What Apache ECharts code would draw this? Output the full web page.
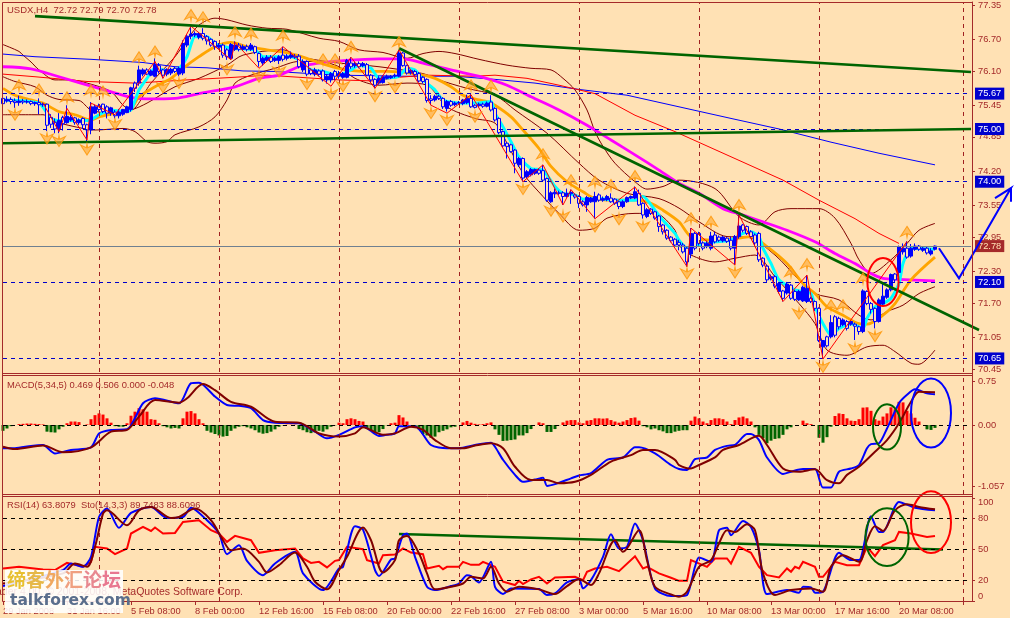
<!DOCTYPE html>
<html><head><meta charset="utf-8">
<style>html,body{margin:0;padding:0;background:#fff}#c{width:1034px;height:618px}</style>
<script src="https://cdn.jsdelivr.net/npm/echarts@6/dist/echarts.min.js"></script>
</head><body><div id="c"></div>
<script>
const timeLabels=["29 Jan 2008","31 Jan 16:00","5 Feb 08:00","8 Feb 00:00","12 Feb 16:00","15 Feb 08:00","20 Feb 00:00","22 Feb 16:00","27 Feb 08:00","3 Mar 00:00","5 Mar 16:00","10 Mar 08:00","13 Mar 00:00","17 Mar 16:00","20 Mar 08:00"];
const priceTicks=[77.35,76.70,76.10,75.45,74.85,74.20,73.55,72.95,72.30,71.70,71.05,70.45];
const macdTicks=["0.75","0.00","-1.057"];
const rsiTicks=[100,80,50,20,0];
const priceLevels=[75.67,75.00,74.00,72.10,70.65];
const lastPrice=72.78;
const periodSep=[24,54,84,114,144,174,204,240];
// open, close, low, high
const candles=[[75.58,75.48,75.42,75.62],[75.53,75.56,75.50,75.62],[75.56,75.52,75.47,75.60],[75.53,75.50,75.40,75.58],[75.50,75.53,75.44,75.63],[75.53,75.51,75.47,75.57],[75.51,75.52,75.48,75.56],[75.52,75.48,75.45,75.54],[75.48,75.50,75.44,75.52],[75.50,75.46,75.28,75.58],
[75.46,75.47,75.42,75.50],[75.47,75.07,74.96,75.48],[75.22,75.09,75.02,75.28],[75.12,75.00,74.92,75.20],[75.00,75.16,74.92,75.30],[75.22,75.10,74.97,75.25],[75.12,75.24,75.10,75.45],[75.17,75.22,75.14,75.26],[75.21,75.12,75.08,75.23],[75.12,75.17,75.08,75.20],
[75.20,75.08,75.00,75.22],[75.08,74.98,74.75,75.10],[74.98,75.42,74.90,75.51],[75.30,75.42,75.28,75.46],[75.44,75.37,75.33,75.48],[75.47,75.33,75.30,75.48],[75.42,75.30,75.20,75.45],[75.30,75.40,75.25,75.42],[75.32,75.25,75.20,75.36],[75.25,75.32,75.20,75.38],
[75.28,75.37,75.25,75.38],[75.31,75.42,75.30,75.44],[75.37,75.78,75.33,75.80],[75.87,75.77,75.70,75.90],[75.87,76.12,75.82,76.20],[76.04,76.12,76.00,76.15],[76.12,76.04,76.02,76.15],[76.02,76.10,76.00,76.13],[76.00,76.22,75.98,76.34],[76.20,76.09,76.05,76.25],
[76.12,76.02,75.96,76.14],[76.04,76.13,76.00,76.15],[76.06,76.13,76.02,76.16],[76.15,76.09,76.06,76.18],[76.04,76.15,76.00,76.18],[76.06,76.62,76.02,76.68],[76.59,76.76,76.55,76.80],[76.76,76.80,76.70,76.94],[76.78,76.81,76.74,76.85],[76.74,76.81,76.70,76.84],
[76.81,76.72,76.68,76.91],[76.75,76.67,76.60,76.78],[76.70,76.59,76.56,76.72],[76.66,76.56,76.50,76.68],[76.55,76.59,76.52,76.63],[76.59,76.40,76.35,76.62],[76.50,76.37,76.31,76.53],[76.34,76.60,76.31,76.63],[76.51,76.59,76.48,76.66],[76.59,76.51,76.47,76.63],
[76.51,76.56,76.48,76.60],[76.56,76.51,76.47,76.60],[76.51,76.59,76.48,76.63],[76.56,76.45,76.42,76.58],[76.43,76.28,76.18,76.45],[76.25,76.34,76.20,76.37],[76.30,76.36,76.27,76.40],[76.36,76.28,76.25,76.40],[76.30,76.34,76.27,76.37],[76.30,76.37,76.23,76.40],
[76.40,76.32,76.28,76.56],[76.34,76.38,76.30,76.42],[76.36,76.40,76.33,76.47],[76.38,76.36,76.33,76.42],[76.38,76.18,76.15,76.42],[76.12,76.28,76.08,76.32],[76.28,76.04,76.00,76.30],[76.12,76.05,76.02,76.15],[76.04,76.12,76.00,76.16],[76.10,76.04,76.00,76.13],
[76.10,75.93,75.90,76.13],[75.93,76.00,75.86,76.03],[75.93,76.05,75.88,76.08],[76.09,76.00,75.92,76.12],[76.00,76.05,75.95,76.10],[75.98,76.05,75.95,76.08],[75.98,76.30,75.96,76.33],[76.25,76.18,76.14,76.36],[76.20,76.24,76.16,76.27],[76.24,76.18,76.15,76.28],
[76.20,76.24,76.17,76.27],[76.22,76.02,76.00,76.25],[76.02,75.93,75.88,76.04],[75.94,75.83,75.77,75.96],[75.87,75.96,75.84,76.00],[75.88,75.99,75.86,76.02],[75.96,76.00,75.94,76.03],[75.97,76.00,75.95,76.02],[76.00,76.02,75.97,76.05],[76.00,76.44,75.98,76.50],
[76.44,76.20,76.18,76.46],[76.20,76.06,76.03,76.22],[76.06,76.11,76.03,76.13],[76.09,76.03,76.00,76.12],[76.05,75.91,75.88,76.08],[75.98,75.90,75.86,76.00],[75.94,75.54,75.50,75.96],[75.57,75.54,75.45,75.64],[75.55,75.62,75.52,75.65],[75.62,75.58,75.55,75.65],
[75.58,75.42,75.38,75.60],[75.39,75.52,75.33,75.55],[75.52,75.45,75.42,75.55],[75.46,75.49,75.43,75.52],[75.49,75.50,75.46,75.53],[75.48,75.55,75.45,75.57],[75.50,75.58,75.47,75.65],[75.58,75.42,75.40,75.66],[75.45,75.41,75.39,75.47],[75.44,75.47,75.41,75.50],
[75.47,75.43,75.40,75.50],[75.43,75.49,75.41,75.52],[75.51,75.36,75.33,75.64],[75.39,75.17,75.14,75.41],[75.20,74.93,74.90,75.22],[74.95,74.68,74.65,74.97],[74.73,74.67,74.44,74.75],[74.70,74.57,74.55,74.72],[74.60,74.35,74.16,74.62],[74.32,74.44,74.28,74.47],
[74.44,74.07,74.00,74.46],[74.10,74.19,74.07,74.22],[74.13,74.23,74.10,74.26],[74.16,74.23,74.13,74.25],[74.22,74.16,74.13,74.25],[74.21,74.03,74.00,74.32],[74.06,73.65,73.62,74.08],[73.62,73.79,73.60,73.82],[73.77,73.80,73.69,73.87],[73.79,73.78,73.75,73.83],
[73.79,73.72,73.56,73.82],[73.72,73.78,73.70,73.87],[73.77,73.80,73.58,73.85],[73.75,73.71,73.68,73.78],[73.72,73.59,73.50,73.74],[73.62,73.56,73.53,73.65],[73.56,73.70,73.43,73.73],[73.62,73.69,73.60,73.71],[73.62,73.72,73.30,73.81],[73.75,73.65,73.62,73.78],
[73.65,73.68,73.62,73.72],[73.66,73.72,73.63,73.75],[73.69,73.62,73.60,73.78],[73.67,73.59,73.56,73.69],[73.62,73.53,73.48,73.64],[73.53,73.62,73.50,73.65],[73.62,73.70,73.60,73.72],[73.69,73.72,73.67,73.74],[73.69,73.81,73.67,73.91],[73.78,73.56,73.54,73.85],
[73.59,73.37,73.30,73.61],[73.34,73.47,73.31,73.50],[73.48,73.40,73.37,73.50],[73.43,73.31,73.28,73.45],[73.35,73.15,73.05,73.37],[73.18,73.05,73.00,73.20],[73.08,72.93,72.90,73.10],[72.95,72.88,72.85,72.97],[72.91,72.80,72.78,72.93],[72.85,72.80,72.70,72.90],
[72.80,72.67,72.64,72.84],[72.74,72.48,72.39,72.76],[72.63,73.02,72.55,73.12],[73.02,72.74,72.70,73.05],[73.02,72.83,72.79,73.05],[72.84,72.74,72.70,72.87],[72.77,72.83,72.74,72.88],[72.74,72.97,72.70,73.05],[72.99,72.86,72.83,73.05],[72.95,72.89,72.86,72.98],
[72.88,72.95,72.85,72.97],[72.93,72.87,72.84,72.95],[72.89,72.74,72.70,72.96],[72.74,72.96,72.42,72.99],[72.96,73.16,72.92,73.37],[73.18,73.08,73.04,73.20],[73.15,73.02,72.99,73.17],[73.05,72.96,72.93,73.08],[72.99,72.84,72.80,73.02],[73.02,72.52,72.48,73.05],
[72.55,72.42,72.38,72.57],[72.40,72.14,72.10,72.42],[72.16,72.20,72.13,72.24],[72.20,72.02,71.98,72.23],[71.92,72.07,71.88,72.10],[71.93,71.79,71.73,71.95],[71.89,72.06,71.86,72.10],[72.04,71.79,71.76,72.06],[71.92,71.77,71.74,71.95],[71.76,71.92,71.74,71.95],
[71.74,72.00,71.72,72.03],[71.73,71.98,71.70,72.23],[71.79,71.73,71.70,71.82],[71.73,71.60,71.55,71.75],[71.60,70.99,70.96,71.62],[70.87,70.99,70.65,71.00],[71.06,70.89,70.86,71.08],[71.06,71.33,71.03,71.47],[71.44,71.09,71.05,71.47],[71.41,71.25,71.20,71.44],
[71.29,71.38,71.26,71.41],[71.35,71.22,71.18,71.38],[71.30,71.35,71.27,71.38],[71.30,71.26,71.00,71.33],[71.25,71.16,71.10,71.27],[71.16,71.93,71.13,71.96],[71.92,71.69,71.66,71.94],[71.69,71.58,71.50,71.72],[71.60,71.35,71.22,71.62],[71.35,71.76,71.33,71.79],
[71.68,71.83,71.65,72.08],[71.81,71.95,71.78,71.98],[71.95,72.24,71.92,72.26],[72.25,72.14,72.10,72.27],[72.28,72.77,72.20,72.79],[72.67,72.74,72.62,72.83],[72.74,72.57,72.54,72.87],[72.59,72.74,72.56,72.82],[72.72,72.78,72.69,72.83],[72.78,72.72,72.69,72.80],
[72.70,72.74,72.67,72.78],[72.74,72.65,72.62,72.78],[72.63,72.69,72.60,72.74],[72.72,72.78,72.70,72.79]];
const cyanMA=[[0,75.55],[9,75.49],[12,75.2],[14,75.16],[21,75.16],[22,75.17],[24,75.27],[27,75.36],[30,75.33],[32,75.36],[34,75.74],[36,75.96],[38,76.15],[41,76.1],[44,76.15],[46,76.37],[48,76.75],[51,76.75],[53,76.62],[57,76.53],[63,76.5],[65,76.37],[72,76.37],[74,76.31],[77,76.12],[80,76.09],[84,76.02],[87,76.12],[89,76.21],[92,76.15],[94,75.96],[98,75.98],[99,76.0],[101,76.15],[103,76.12],[105,75.93],[108,75.74],[110,75.55],[114,75.49],[118,75.49],[122,75.52],[123,75.3],[125,75.04],[127,74.76],[129,74.47],[132,74.25],[135,74.22],[138,73.91],[140,73.78],[143,73.75],[145,73.67],[149,73.68],[153,73.65],[158,73.65],[160,73.72],[163,73.46],[165,73.27],[168,73.02],[169,72.89],[171,72.74],[174,72.8],[178,72.86],[182,72.89],[183,72.93],[185,73.02],[187,73.05],[189,72.96],[190,72.74],[192,72.45],[194,72.14],[198,71.95],[202,71.88],[203,71.63],[205,71.31],[207,71.09],[209,71.22],[212,71.31],[215,71.22],[216,71.41],[218,71.63],[220,71.69],[222,71.79],[224,72.07],[225,72.45],[227,72.74],[233,72.72]];
const orangeMA=[[0,75.77],[3,75.64],[7,75.55],[10,75.49],[14,75.33],[18,75.27],[22,75.17],[24,75.23],[28,75.3],[32,75.39],[34,75.61],[38,75.8],[42,75.96],[45,76.15],[49,76.37],[53,76.56],[57,76.64],[61,76.56],[66,76.5],[72,76.43],[77,76.31],[81,76.21],[84,76.15],[88,76.1],[93,76.09],[96,76.09],[103,76.05],[108,75.96],[112,75.8],[115,75.64],[119,75.55],[121,75.52],[123,75.45],[127,75.23],[130,74.98],[134,74.63],[137,74.29],[141,74.0],[145,73.81],[148,73.68],[153,73.65],[158,73.65],[162,73.59],[165,73.46],[169,73.24],[172,72.96],[178,72.89],[184,72.93],[187,72.96],[191,72.77],[196,72.45],[200,72.07],[203,71.88],[206,71.63],[210,71.47],[214,71.31],[216,71.3],[220,71.47],[223,71.69],[227,72.14],[233,72.57]];
const magentaMA=[[0,76.18],[7,76.14],[14,75.99],[24,75.77],[32,75.6],[36,75.57],[43,75.58],[49,75.67],[58,75.8],[64,75.96],[69,76.02],[74,76.18],[79,76.25],[84,76.29],[94,76.33],[100,76.33],[105,76.25],[112,76.12],[120,75.98],[126,75.83],[132,75.61],[139,75.36],[146,75.07],[152,74.79],[158,74.51],[164,74.22],[169,73.97],[174,73.78],[180,73.49],[185,73.37],[190,73.24],[196,73.08],[203,72.86],[208,72.64],[213,72.45],[217,72.26],[220,72.17],[224,72.15],[233,72.12]];
const blueMA=[[0,76.42],[8,76.37],[22,76.32],[35,76.26],[43,76.18],[51,76.16],[60,76.1],[68,76.09],[79,76.04],[84,76.02],[100,76.0],[113,76.0],[123,75.94],[133,75.87],[144,75.75],[156,75.64],[169,75.42],[182,75.2],[194,75.0],[207,74.75],[219,74.54],[233,74.32]];
const redMA=[[0,76.04],[8,75.99],[21,75.9],[33,75.87],[46,75.93],[58,75.98],[66,76.02],[78,75.96],[84,75.93],[93,75.91],[99,75.98],[106,76.02],[118,76.0],[123,76.02],[131,75.96],[139,75.83],[148,75.67],[158,75.26],[168,74.95],[195,74.03],[204,73.65],[213,73.3],[219,73.02],[224,72.83]];
const bandUpper=[[0,76.6],[4,76.47],[5,76.4],[7,76.27],[9,76.12],[13,75.93],[17,75.93],[21,75.87],[27,75.71],[30,75.45],[32,75.36],[37,75.87],[43,76.37],[46,76.69],[49,76.97],[53,77.1],[56,77.07],[61,76.97],[66,76.91],[71,76.89],[79,76.72],[84,76.66],[89,76.5],[95,76.45],[101,76.34],[105,76.43],[109,76.47],[113,76.43],[119,76.32],[126,76.21],[132,76.15],[137,76.12],[140,75.96],[143,75.74],[146,75.36],[148,74.95],[150,74.67],[153,74.35],[158,74.0],[161,73.86],[165,73.91],[169,74.03],[178,73.87],[184,73.34],[189,73.18],[193,73.43],[197,73.49],[204,73.49],[208,73.31],[212,72.83],[214,72.52],[217,72.26],[222,72.52],[226,72.83],[229,73.08],[233,73.21]];
const bandMiddle=[[0,75.99],[3,75.9],[8,75.8],[11,75.64],[14,75.56],[19,75.54],[22,75.36],[27,75.3],[32,75.36],[36,75.49],[43,75.8],[49,75.96],[56,76.21],[60,76.4],[70,76.5],[74,76.37],[84,76.25],[94,76.18],[105,76.05],[109,75.93],[116,75.77],[123,75.64],[128,75.36],[136,74.92],[144,74.35],[149,74.03],[156,73.78],[164,73.68],[169,73.5],[174,73.24],[181,72.96],[186,72.95],[193,72.61],[199,72.14],[203,71.88],[209,71.76],[214,71.47],[217,71.38],[221,71.54],[225,71.66],[229,71.88],[233,72.01]];
const bandLower=[[0,75.27],[10,75.27],[13,75.14],[20,75.01],[23,74.98],[30,75.01],[33,74.95],[36,74.76],[38,74.73],[41,74.76],[43,74.89],[49,75.04],[53,75.23],[56,75.55],[58,75.87],[62,76.02],[68,76.15],[74,76.28],[79,76.28],[84,76.18],[88,75.96],[94,75.83],[101,75.87],[106,75.83],[111,75.42],[118,75.2],[123,75.11],[126,74.73],[130,74.16],[135,73.72],[139,73.4],[144,73.08],[148,73.12],[151,73.31],[158,73.4],[163,73.4],[168,73.08],[169,72.8],[172,72.61],[178,72.48],[183,72.55],[188,72.61],[193,72.2],[199,71.69],[203,71.31],[206,70.81],[211,70.71],[216,70.87],[220,70.9],[223,70.78],[227,70.56],[229,70.54],[233,70.81]];
const zigzag=[[10,75.49],[14,74.95],[16,75.39],[21,74.79],[22,75.49],[28,75.27],[38,76.28],[40,75.96],[47,76.95],[57,76.31],[58,76.64],[64,76.15],[70,76.56],[82,75.81],[87,76.36],[93,75.77],[99,76.5],[107,75.45],[111,75.3],[117,75.65],[130,74.0],[135,74.32],[140,73.56],[142,73.85],[148,73.3],[158,73.9],[171,72.39],[172,73.12],[183,72.42],[184,73.37],[195,71.73],[201,72.23],[205,70.64],[226,72.87]];
const fractalUp=[[4,75.83],[9,75.75],[16,75.6],[22,75.73],[25,75.71],[34,76.36],[38,76.47],[47,77.16],[50,77.12],[58,76.84],[62,76.81],[70,76.77],[80,76.32],[83,76.32],[87,76.56],[99,76.65],[117,75.83],[122,75.82],[135,74.52],[142,74.03],[148,74.0],[152,73.94],[158,74.11],[172,73.31],[177,73.24],[184,73.56],[197,72.29],[201,72.44],[207,71.66],[210,71.66],[215,72.17],[226,73.05]];
const fractalDown=[[3,75.27],[11,74.82],[14,74.77],[21,74.61],[28,75.09],[40,75.79],[44,75.87],[56,76.13],[64,75.99],[69,76.09],[76,75.85],[82,75.66],[85,75.81],[93,75.62],[98,75.79],[107,75.3],[111,75.17],[118,75.23],[130,73.86],[137,73.45],[140,73.34],[148,73.15],[154,73.29],[160,73.15],[171,72.26],[183,72.28],[199,71.5],[205,70.49],[213,70.84],[218,71.07]];
const trendTop=[[8,77.14],[242,76.08]];
const trendBase=[[0,74.73],[242,75.0]];
const trendFall=[[99,76.53],[244,71.19]];
const forecast=[[234,72.74],[239,72.17],[252,73.88],[248,73.69],[252,73.88],[252,73.62]];
const macdHist=[-.1,-.06,-.02,0,.015,.02,.025,.025,.02,.015,.01,-.115,-.125,-.13,-.075,-.03,.03,.06,.06,.05,0,.01,.1,.17,.2,.18,.115,.04,-.02,-.03,-.03,.03,.16,.23,.29,.27,.23,.1,.09,.03,-.02,-.04,-.06,-.05,-.06,.115,.23,.24,.2,.1,.03,-.1,-.13,-.155,-.18,-.2,-.19,-.1,-.06,-.03,-.02,-.04,-.06,-.09,-.13,-.15,-.14,-.115,-.075,-.03,-.005,.005,.005,.005,-.07,-.09,-.125,-.14,-.125,-.1,-.115,-.075,-.03,-.005,.04,.03,.1,.115,.1,.07,.06,-.06,-.09,-.14,-.125,-.07,-.005,.03,.04,.17,.13,.06,0,-.03,-.075,-.155,-.18,-.22,-.2,-.125,-.1,-.075,-.04,-.03,0,.045,.07,.04,.02,.01,.015,.03,.045,-.075,-.17,-.275,-.27,-.26,-.25,-.18,-.18,-.14,-.07,0,.045,.03,-.12,-.12,-.07,-.005,.045,.075,.085,.085,.045,.03,.075,.085,.115,.115,.11,.115,.085,.06,.04,.06,.085,.12,.13,.075,-.02,-.04,-.075,-.06,-.09,-.11,-.14,-.14,-.115,-.1,-.09,-.09,.075,.145,.115,.06,.03,.085,.115,.115,.1,.06,.015,.085,.13,.145,.115,.06,-.04,-.17,-.23,-.315,-.27,-.24,-.23,-.17,-.075,-.04,0,0,.075,.03,.015,0,-.22,-.305,-.21,-.03,.155,.2,.19,.115,.075,.07,.1,.3,.305,.245,.1,.075,.145,.2,.305,.27,.4,.39,.245,.2,.125,.06,0,-.075,-.085,-.05];
const macdMain=[[0,-.40],[3,-.40],[7,-.36],[10,-.345],[13,-.49],[17,-.43],[22,-.385],[24,-.145],[27,-.085],[31,-.075],[35,.375],[38,.46],[44,.375],[47,.72],[49,.73],[53,.49],[56,.345],[59,.33],[62,.29],[65,.085],[68,.04],[74,.03],[78,-.115],[81,-.23],[84,-.17],[88,-.04],[90,-.02],[94,-.19],[96,-.17],[98,-.145],[99,-.02],[103,-.02],[107,-.345],[111,-.40],[114,-.40],[118,-.345],[122,-.305],[123,-.375],[125,-.60],[128,-.86],[130,-.98],[133,-.94],[135,-.91],[136,-1.05],[138,-1.02],[142,-.92],[144,-.87],[147,-.83],[151,-.60],[155,-.56],[158,-.385],[159,-.385],[163,-.49],[167,-.69],[169,-.76],[171,-.775],[173,-.59],[176,-.56],[178,-.43],[181,-.36],[183,-.345],[186,-.155],[187,-.155],[189,-.26],[191,-.56],[195,-.845],[197,-.805],[200,-.76],[203,-.76],[205,-1.08],[207,-1.08],[209,-.805],[212,-.75],[214,-.69],[216,-.40],[217,-.33],[219,-.315],[221,-.06],[224,.375],[226,.52],[228,.615],[231,.545],[233,.53]];
const macdSignal=[[0,-.375],[3,-.415],[10,-.355],[15,-.47],[22,-.385],[27,-.115],[31,-.085],[34,.145],[38,.43],[44,.385],[46,.46],[50,.705],[53,.6],[57,.4],[62,.315],[68,.055],[74,.04],[79,-.145],[84,-.2],[88,-.145],[90,-.04],[95,-.17],[98,-.145],[102,-.03],[105,-.085],[108,-.26],[112,-.40],[115,-.40],[118,-.355],[122,-.315],[125,-.40],[128,-.72],[132,-.95],[136,-.95],[139,-1.005],[143,-.98],[147,-.86],[152,-.63],[157,-.52],[160,-.43],[163,-.43],[168,-.60],[169,-.69],[172,-.75],[174,-.69],[178,-.56],[180,-.43],[184,-.345],[189,-.185],[191,-.345],[195,-.75],[199,-.805],[203,-.765],[206,-.95],[209,-1.005],[211,-.86],[214,-.72],[218,-.46],[221,-.26],[224,.03],[227,.40],[229,.575],[233,.565]];
const rsiLine=[[0,31.6],[4,33.2],[10,30.6],[13,30],[16,37],[20,33.2],[22,38],[23,52.6],[26,51],[28,45.5],[31,51],[32,65.5],[35,71.9],[37,68],[38,71.3],[40,65.5],[43,66.1],[45,76.8],[49,78.4],[52,68.7],[54,65.5],[56,57.4],[58,63.2],[62,59],[64,46.8],[68,49.3],[73,51],[75,41.3],[77,37],[79,38],[81,32.6],[83,39],[84,39.7],[86,52.6],[90,50.3],[91,39.7],[94,36.4],[95,44.5],[98,45.1],[100,51],[102,47],[105,45.5],[106,31.6],[109,34.2],[110,30.9],[111,33.2],[114,33.2],[115,38],[117,35.1],[119,35.1],[120,38],[123,33.2],[125,18.7],[128,15.5],[129,19.6],[130,16.4],[132,21],[134,23.5],[136,17],[138,22.9],[143,23.5],[145,20.3],[146,28.4],[148,31.6],[151,33.2],[154,29],[158,43.5],[160,31.6],[161,33.2],[164,26.8],[167,22.6],[169,19.6],[171,19.6],[172,39.7],[176,33.2],[178,41.3],[181,41.3],[182,36.4],[184,52.6],[187,46.8],[189,33.2],[191,25.1],[194,22.9],[196,31.6],[197,28.4],[198,33.2],[199,31.6],[200,38],[203,33.2],[204,23.5],[205,23.5],[208,38],[211,34.8],[214,34.8],[216,52.6],[218,43.5],[220,54.2],[223,59],[224,67.1],[227,65.5],[231,62.2],[233,63.2]];
const stochMain=[[0,14.5],[15,30],[17,36.4],[20,33.2],[22,42.9],[24,81.6],[26,89.7],[29,71],[32,85.5],[37,91.3],[41,80.6],[45,81.6],[47,90.6],[51,78.4],[54,65.5],[56,45.5],[59,54.2],[61,39],[65,25.1],[68,36.4],[73,47.7],[75,26.8],[80,10.6],[84,31.6],[85,33.2],[88,72.6],[90,69.3],[93,30],[94,24.2],[97,40.3],[98,41.3],[100,63.9],[101,65.5],[103,42.9],[106,13.8],[108,10.6],[112,14.5],[114,17],[116,25.1],[117,24.2],[119,18],[122,38],[123,13.8],[125,6.7],[127,12.2],[134,11.6],[136,5.8],[138,7.4],[141,18],[144,21],[145,12.2],[147,20.3],[150,42.9],[152,64.8],[154,51],[156,52.6],[158,75.2],[160,59],[163,12.2],[167,4.8],[169,4.8],[171,5.8],[173,33.2],[174,42.2],[177,38],[179,68.7],[181,71],[182,63.9],[185,77.7],[187,71.9],[189,49.3],[191,6.7],[196,10.6],[199,8],[200,13.8],[202,13.2],[203,8],[205,9],[209,46.8],[212,39.7],[214,39.7],[217,82.3],[219,67.1],[220,67.1],[224,96.1],[228,90.6],[233,88]];
const stochSignal=[[0,17],[15,26.8],[18,36.4],[21,33.2],[23,52.6],[25,84.8],[26,88],[31,73.5],[34,88],[37,91.3],[42,80.6],[44,81.6],[48,89.7],[52,78.4],[55,59],[57,49.3],[60,51],[64,38],[66,27.7],[69,34.8],[73,47],[76,33.2],[78,18.7],[81,11.3],[84,30],[86,42.9],[90,71.3],[92,59],[95,27.7],[98,39.7],[99,59],[101,63.2],[104,46.1],[106,26.8],[108,11.3],[112,13.8],[115,17],[117,23.5],[120,21.9],[122,33.2],[124,17],[126,9],[129,13.8],[134,11.3],[138,6.7],[141,14.5],[144,21],[147,15.5],[149,26.8],[153,59],[155,47.7],[159,68.7],[161,39.7],[163,13.8],[167,6.4],[169,4.2],[171,9],[174,33.2],[177,39.7],[179,55.8],[181,68.7],[183,67.1],[186,74.5],[188,68.7],[190,26.8],[193,5.8],[197,10.6],[202,12.2],[205,9],[207,33.2],[210,44.5],[214,38],[216,59],[218,72.6],[220,68],[223,88],[226,93.9],[229,91.3],[233,89]];
const rsiTrend=[[99,65],[235,50]];
// centre bar, centre value, half-width in bars, half-height in value units
const ringsMain=[[220,72.1,3.9,.455]];
const ringsMacdGreen=[[221,-.034,3.5,.39]];
const ringsMacdBlue=[[232,.207,5,.595]];
const ringsRsiGreen=[[221,62,5.4,28]];
const ringsRsiRed=[[232,76.5,5,30]];

const BROWN='#A52A2A', BG='#FFE1B4', BAR_COUNT=253, FONT='"Liberation Sans"', FS=9.3;
const cats=Array.from({length:BAR_COUNT},(_,i)=>i%16===0?(timeLabels[i/16]||''):'');
const line=(data,color,width,g,z,smooth)=>({type:'line',data,xAxisIndex:g,yAxisIndex:g,showSymbol:false,symbol:'none',silent:true,animation:false,z:z||3,smooth:smooth||false,lineStyle:{color,width,join:'miter'}});
const ring=(data,color,g)=>({type:'custom',xAxisIndex:g,yAxisIndex:g,data,silent:true,animation:false,z:6,clip:false,
  renderItem:(p,api)=>{const c=api.coord([api.value(0),api.value(1)]);const s=api.size([1,1]);
    return {type:'ellipse',shape:{cx:c[0],cy:c[1],rx:api.value(2)*s[0],ry:api.value(3)*s[1]},style:{fill:'none',stroke:color,lineWidth:2}};},
  encode:{x:0,y:1}});
const seps=g=>({type:'line',xAxisIndex:g,yAxisIndex:g,data:[],silent:true,z:1,animation:false,
  markLine:{silent:true,symbol:'none',animation:false,label:{show:false},lineStyle:{color:'#A02020',type:[4,4],width:1},data:periodSep.map(i=>({xAxis:i}))}});
const level=(v,g,color,txt,boxColor,txtColor,dash)=>({symbol:'none',
  lineStyle:{color,type:dash,width:1},
  label:txt?{show:true,position:'end',formatter:txt,distance:4,backgroundColor:boxColor,color:txtColor,fontFamily:FONT,fontSize:FS,padding:[2,3,1,3]}:{show:false},
  data:[{coord:[0,v]},{coord:[242,v]}]});
const hl=(g,items)=>({type:'line',xAxisIndex:g,yAxisIndex:g,data:[],silent:true,z:2,animation:false,
  markLine:{silent:true,symbol:'none',animation:false,precision:3,
    data:items.map(it=>{const l=level(...it);return [{coord:l.data[0].coord,lineStyle:l.lineStyle,label:l.label},{coord:l.data[1].coord}];})}});
const yax=(g,min,max,vals,fmt)=>({type:'value',gridIndex:g,position:'right',offset:-41,min,max,scale:true,splitLine:{show:false},
  axisLine:{show:true,onZero:false,lineStyle:{color:BROWN}},
  axisTick:{show:true,length:3,customValues:vals,lineStyle:{color:BROWN}},
  axisLabel:Object.assign({show:true,customValues:vals,formatter:fmt,color:BROWN,fontFamily:FONT,fontSize:FS,margin:6,hideOverlap:false,showMinLabel:true,showMaxLabel:true},g===2?{verticalAlignMinLabel:'top',verticalAlignMaxLabel:'bottom'}:{})});
const xax=(g,labels)=>({type:'category',gridIndex:g,data:cats,boundaryGap:true,
  axisLine:{show:false},splitLine:{show:false},
  axisTick:{show:labels,alignWithLabel:true,interval:15,length:4,lineStyle:{color:BROWN}},
  axisLabel:{show:labels,interval:15,align:'left',color:BROWN,fontFamily:FONT,fontSize:FS,margin:6,hideOverlap:false}});
const fr=(x1,y1,x2,y2)=>({type:'line',z:50,shape:{x1,y1,x2,y2},style:{stroke:BROWN,lineWidth:1}});
const txt=(text,x,y,size,color,extra)=>({type:'text',x,y,z:1,style:Object.assign({text,fill:color,font:size+'px '+FONT},extra||{})});
const arrowPath='path://M6,0 L12,11 L6.6,8 L6,12 L5.4,8 L0,11 Z';

const chart=echarts.init(document.getElementById('c'),null,{renderer:'canvas'});
chart.setOption({
  animation:false,backgroundColor:'#fff',
  graphic:{elements:[
    {type:'rect',z:-10,shape:{x:0,y:0,width:1010,height:618},style:{fill:BG}},
    fr(2.5,2.5,972.5,2.5),fr(2.5,2.5,2.5,601.5),fr(2.5,373.5,972.5,373.5),fr(2.5,375.5,972.5,375.5),fr(2.5,494.5,972.5,494.5),fr(2.5,496.5,972.5,496.5),fr(2.5,601.5,972.5,601.5),fr(972.5,2.5,972.5,601.5),
    txt('USDX,H4  72.72 72.79 72.70 72.78',7,5,9.5,BROWN),
    txt('MACD(5,34,5) 0.469 0.506 0.000 -0.048',7,381,9.4,BROWN),
    txt('RSI(14) 63.8079  Sto(14,3,3) 89.7483 88.6096',7,501,9.4,BROWN),
    txt('MetaTrader 4.00, © 2001-2008, MetaQuotes Software Corp.',243,587,10.5,BROWN,{textAlign:'right'}),
    {type:'rect',z:100,shape:{x:5,y:570,width:118,height:43},style:{fill:'rgba(255,255,255,0.88)'}},
    {type:'text',z:101,x:7,y:570,style:{text:'{a|缔}{b|客}{c|外}{d|汇}{e|论}{f|坛}',font:'bold 19px "Noto Sans CJK SC"',
      rich:{a:{fill:'#E8C030',font:'bold 19px "Noto Sans CJK SC"'},b:{fill:'#E6B848',font:'bold 19px "Noto Sans CJK SC"'},c:{fill:'#F0A860',font:'bold 19px "Noto Sans CJK SC"'},d:{fill:'#F0A080',font:'bold 19px "Noto Sans CJK SC"'},e:{fill:'#E88890',font:'bold 19px "Noto Sans CJK SC"'},f:{fill:'#E87890',font:'bold 19px "Noto Sans CJK SC"'}}}},
    {type:'text',z:101,x:10,y:593,style:{text:'talkforex.com',fill:'#5A6E8C',font:'bold 15.5px "DejaVu Sans"'}}
  ]},
  grid:[
    {left:1,width:1012,top:2,height:370},
    {left:1,width:1012,top:376,height:118},
    {left:1,width:1012,top:498,height:103}
  ],
  xAxis:[xax(0,false),xax(1,false),xax(2,true)],
  yAxis:[
    yax(0,70.393,77.407,priceTicks,v=>v.toFixed(2)),
    yax(1,-1.19,.845,[.75,0,-1.057],v=>v===.75?macdTicks[0]:v===0?macdTicks[1]:macdTicks[2]),
    yax(2,0,100,rsiTicks,v=>String(v))
  ],
  series:[
    seps(0),seps(1),seps(2),
    hl(0,[[lastPrice,0,'#708090','72.78',BROWN,'#FFE1B4','solid'],...priceLevels.map(v=>[v,0,'#0000C8',v.toFixed(2),'#0000CD','#fff',[4,4]])]),
    hl(1,[[0,1,'#000',null,null,null,[4,4]]]),
    hl(2,[[80,2,'#000',null,null,null,[4,4]],[50,2,'#000',null,null,null,[4,4]],[20,2,'#000',null,null,null,[4,4]]]),
    line(bandUpper,'#800000',1,0,3,.3),line(bandMiddle,'#800000',1,0,3,.3),line(bandLower,'#800000',1,0,3,.3),
    line(blueMA,'#0000FF',1,0),line(redMA,'#FF0000',1,0),
    line(magentaMA,'#FF00FF',2.8,0,3,.3),line(orangeMA,'#FFA500',2.8,0,3,.3),line(cyanMA,'#00FFFF',3,0,3,.2),
    {type:'candlestick',xAxisIndex:0,yAxisIndex:0,data:candles,barWidth:3,silent:true,animation:false,z:4,
      itemStyle:{color:'#0000FF',color0:BG,borderColor:'#0000FF',borderColor0:'#0000FF',borderWidth:1}},
    line(zigzag,'#FF0000',1,0,5),
    line(trendTop,'#006400',2.6,0,5),line(trendBase,'#006400',2.6,0,5),line(trendFall,'#006400',2.6,0,5),
    line(forecast,'#0000FF',2,0,6),
    {type:'scatter',xAxisIndex:0,yAxisIndex:0,data:fractalUp,symbol:arrowPath,symbolSize:[13,11],silent:true,animation:false,z:5,itemStyle:{color:'rgba(255,165,40,0.75)',borderColor:'#FF9500',borderWidth:1}},
    {type:'scatter',xAxisIndex:0,yAxisIndex:0,data:fractalDown,symbol:arrowPath,symbolRotate:180,symbolSize:[13,11],silent:true,animation:false,z:5,itemStyle:{color:'rgba(255,165,40,0.75)',borderColor:'#FF9500',borderWidth:1}},
    ring(ringsMain,'#FF0000',0),
    {type:'bar',xAxisIndex:1,yAxisIndex:1,data:macdHist,barWidth:3,silent:true,animation:false,z:3,itemStyle:{color:p=>p.value>=0?'#FF0000':'#006400'}},
    line(macdMain,'#0000FF',2,1,4,.25),line(macdSignal,'#800000',2,1,5,.3),
    ring(ringsMacdGreen,'#006400',1),ring(ringsMacdBlue,'#0000FF',1),
    line(rsiLine,'#FF0000',2,2,3),line(rsiTrend,'#006400',2.6,2,3),line(stochMain,'#0000FF',2,2,4,.25),line(stochSignal,'#800000',2,2,5,.3),
    ring(ringsRsiGreen,'#006400',2),ring(ringsRsiRed,'#FF0000',2)
  ]
});
</script></body></html>
